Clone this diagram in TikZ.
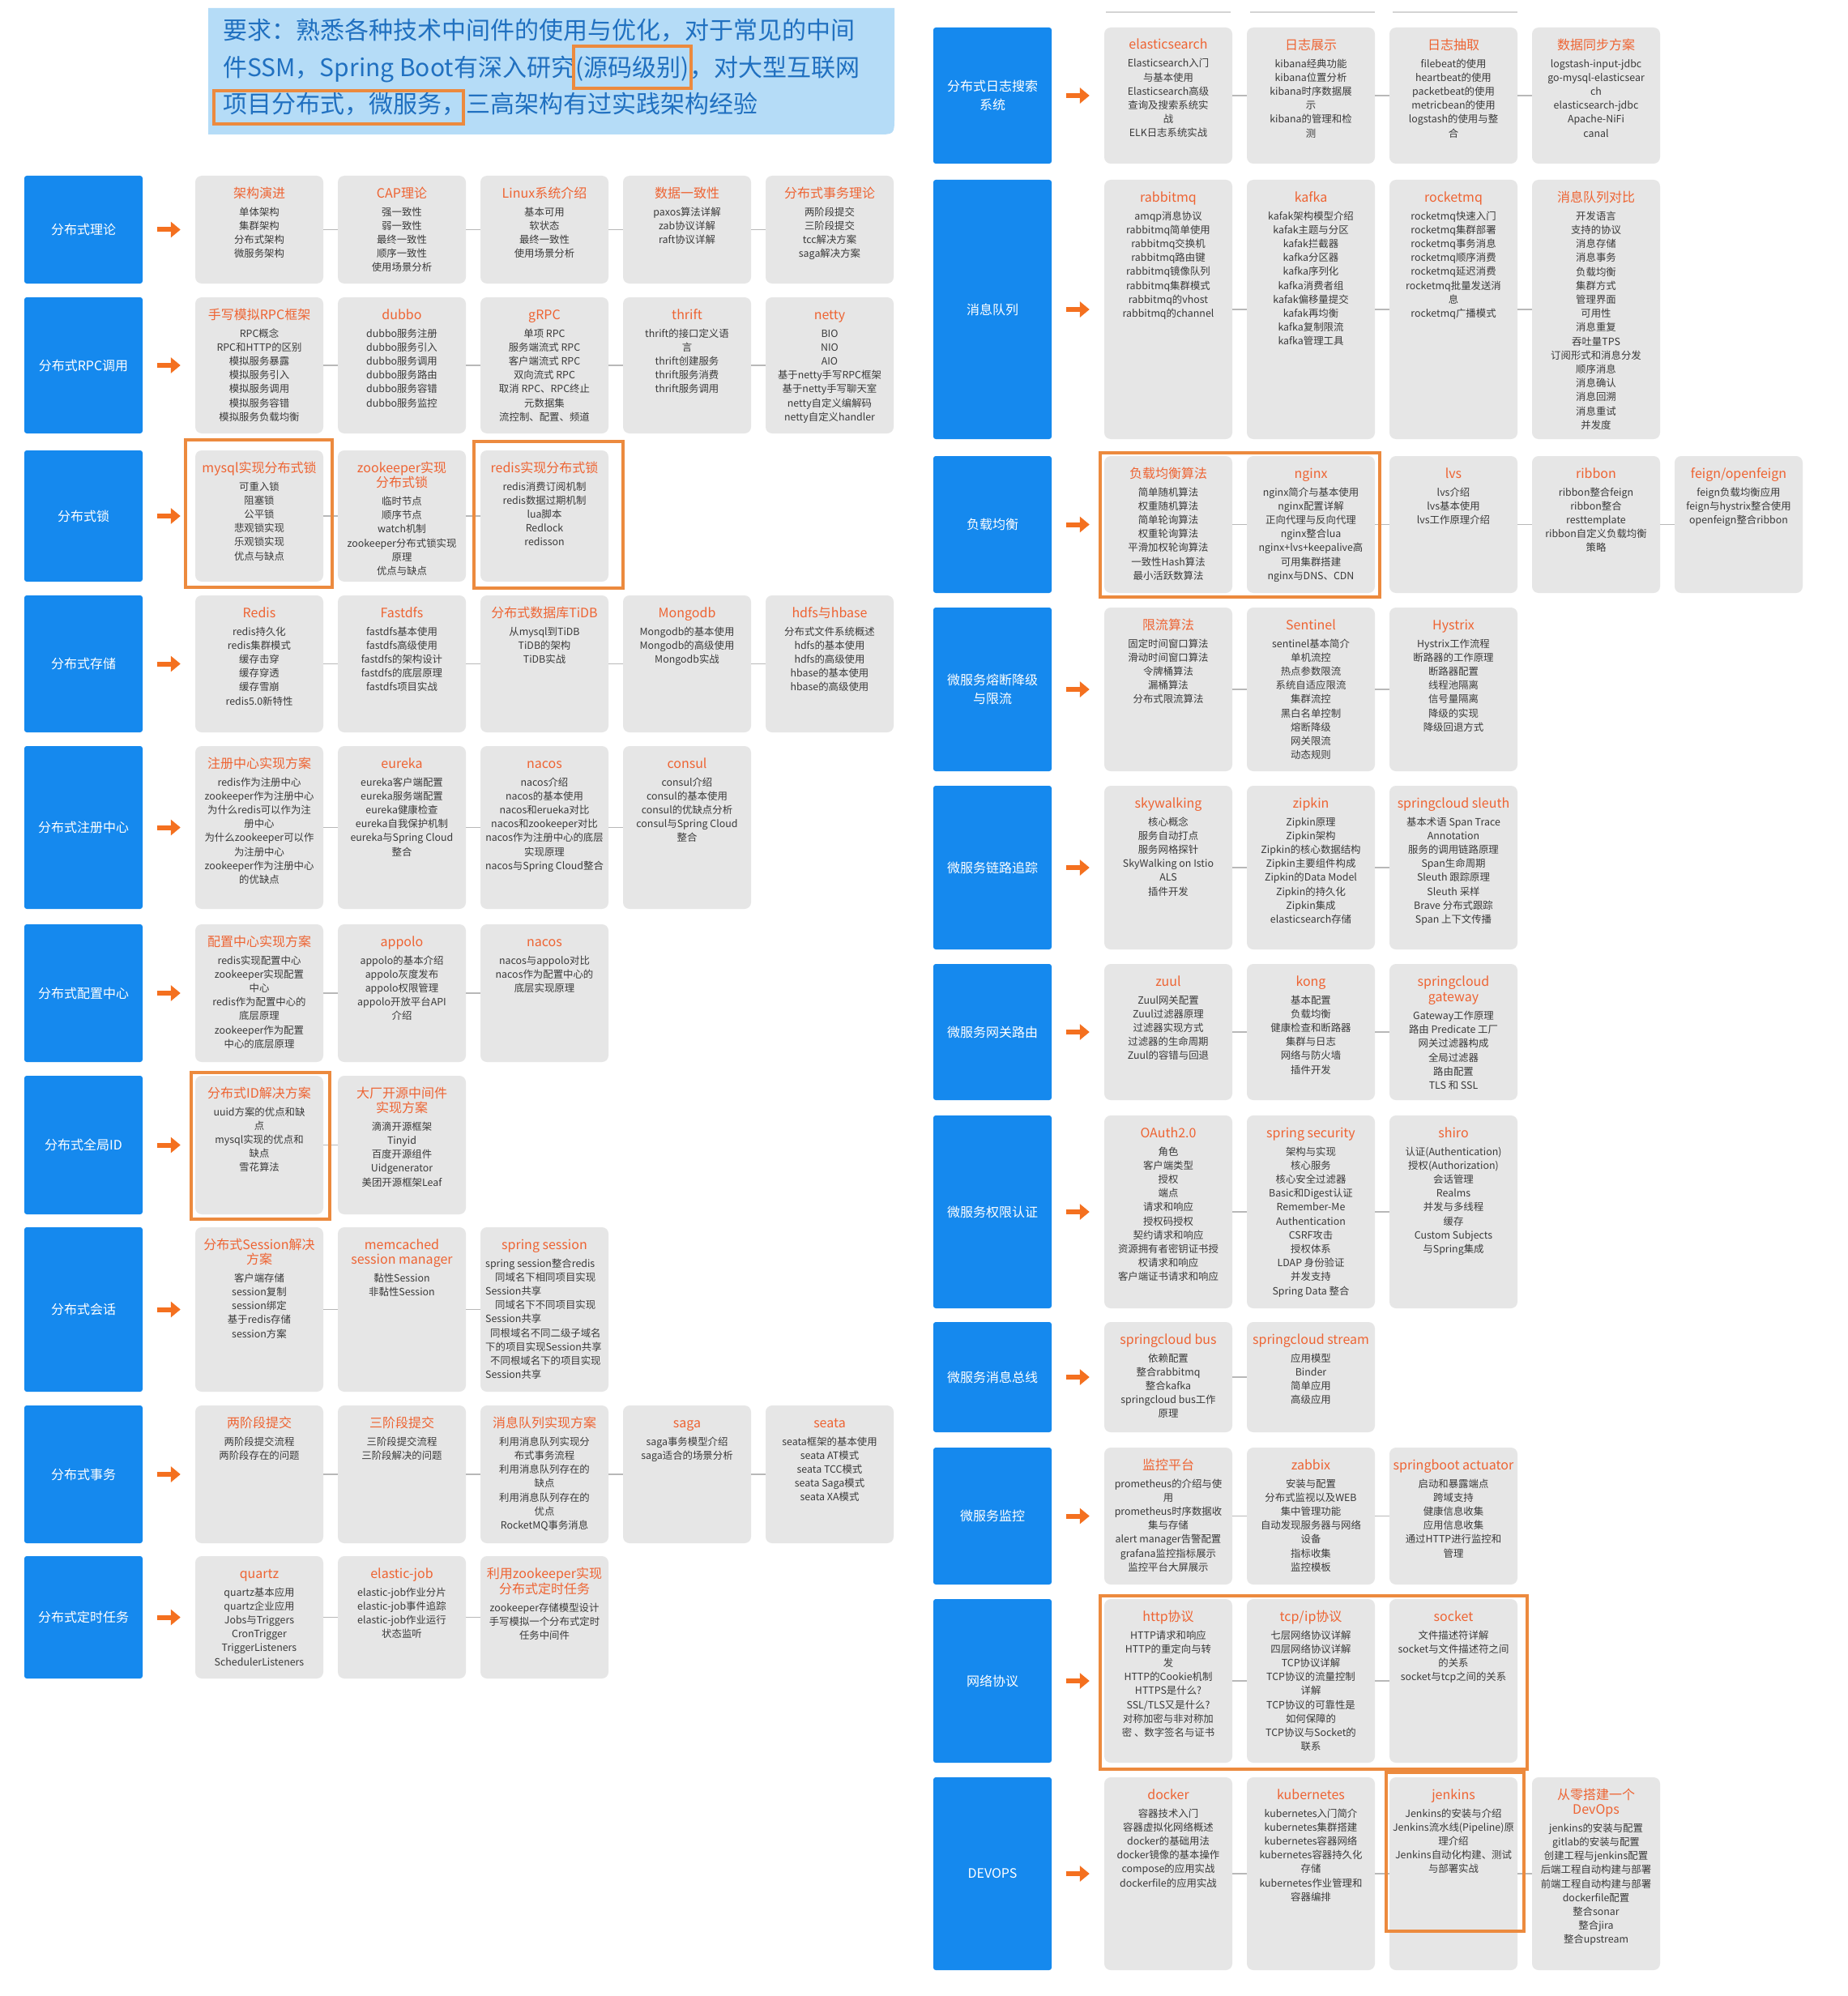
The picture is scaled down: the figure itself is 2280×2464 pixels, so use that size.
\documentclass[tikz,border=0pt]{standalone}
\usepackage{fontspec}
\setmainfont{Noto Sans CJK SC}
\usetikzlibrary{arrows.meta}
\definecolor{bblue}{HTML}{1589EE}
\definecolor{gfill}{HTML}{E6E6E6}
\definecolor{tcol}{HTML}{EE6433}
\definecolor{bodyc}{HTML}{3A3A3A}
\definecolor{hlc}{HTML}{EC8A3E}
\definecolor{arrc}{HTML}{F4701F}
\definecolor{connc}{HTML}{B8B8B8}
\definecolor{hdrbg}{HTML}{B5DCF7}
\definecolor{hdrtxt}{HTML}{2070C0}
\newcommand\tit[1]{{\fontsize{16}{18.3}\selectfont\color{tcol}\rule{0pt}{13.4pt}#1}}
\newcommand\TT[1]{\tit{#1}\\[4.8pt]}
\newcommand\TTT[2]{\tit{#1}\\[1.1pt]\tit{#2}\\[4.8pt]}
\newcommand\gb[5]{%
  \node[gbox, minimum height={#4-#3}] (#1) at (#2,{(#3+#4)/2}) {};
  \node[gtxt, anchor=north] (#1t) at (#2,#3+13.4) {#5};
}
\newcommand\bb[5]{%
  \node[bbox, minimum height={#4-#3}] (#1) at (#2,{(#3+#4)/2}) {#5};
}
\tikzset{
 gbox/.style={fill=gfill, draw=none, rounded corners=8pt, minimum width=158pt, inner sep=0pt},
 gtxt/.style={align=center, inner sep=0pt, text=bodyc, font=\fontsize{12.4}{17.2}\selectfont},
 bbox/.style={fill=bblue, rounded corners=3pt, minimum width=146pt, inner sep=0pt, align=center, text=white, font=\fontsize{16}{23.6}\selectfont},
 oarrow/.style={draw=arrc, line width=6pt, -{Triangle[length=12pt,width=19pt]}, shorten <=18pt, shorten >=18pt},
 conn/.style={draw=connc, line width=1.5pt},
 hl/.style={draw=hlc, line width=4pt},
 htxt/.style={inner sep=0pt, font=\fontsize{30}{45}\selectfont, text=hdrtxt},
}
\begin{document}
\begin{tikzpicture}[x=1pt,y=-1pt]
\useasboundingbox (0,0) rectangle (2280,2464);
\fill[white] (0,0) rectangle (2280,2464);

% ---------- header ----------
\fill[hdrbg] (257,10) -- (1104,10) -- (1104,144) .. controls (1104,166) .. (1082,166) -- (257,166) -- cycle;
\node[htxt, anchor=base west] (h1) at (275,48.5) {要求：熟悉各种技术中间件的使用与优化，对于常见的中间};
\node[htxt, anchor=base west] (h2a) at (275,94.4) {件SSM，Spring Boot有深入研究};
\node[htxt, anchor=base west] (h2b) at (h2a.base east) {(源码级别)};
\node[htxt, anchor=base west] (h2c) at (h2b.base east) {，对大型互联网};
\node[htxt, anchor=base west] (h3a) at (275,139.4) {项目分布式，微服务，};
\node[htxt, anchor=base west] (h3b) at (h3a.base east) {三高架构有过实践架构经验};
\coordinate (ya) at (0,57); \coordinate (yb) at (0,109);
\coordinate (yc) at (0,112); \coordinate (yd) at (0,153);
\coordinate (r1l) at ([xshift=-2pt]h2b.west); \coordinate (r1r) at ([xshift=2pt]h2b.east);
\coordinate (r2l) at ([xshift=-11pt]h3a.west); \coordinate (r2r) at ([xshift=-3pt]h3a.east);
\draw[hl] (r1l |- ya) rectangle (r1r |- yb);
\draw[hl] (r2l |- yc) rectangle (r2r |- yd);

% faint edges at the top right
\draw[connc!60, line width=1.5pt] (1365,15) -- (1519,15) (1543,15) -- (1697,15) (1719,15) -- (1873,15);

% ---------- LEFT ----------
\bb{L1}{103}{217}{350}{分布式理论}
\gb{L1a}{320}{217}{350}{\TT{架构演进}单体架构\\集群架构\\分布式架构\\微服务架构}
\gb{L1b}{496}{217}{350}{\TT{CAP理论}强一致性\\弱一致性\\最终一致性\\顺序一致性\\使用场景分析}
\gb{L1c}{672}{217}{350}{\TT{Linux系统介绍}基本可用\\软状态\\最终一致性\\使用场景分析}
\gb{L1d}{848}{217}{350}{\TT{数据一致性}paxos算法详解\\zab协议详解\\raft协议详解}
\gb{L1e}{1024}{217}{350}{\TT{分布式事务理论}两阶段提交\\三阶段提交\\tcc解决方案\\saga解决方案}

\bb{L2}{103}{367}{535}{分布式RPC调用}
\gb{L2a}{320}{367}{535}{\TT{手写模拟RPC框架}RPC概念\\RPC和HTTP的区别\\模拟服务暴露\\模拟服务引入\\模拟服务调用\\模拟服务容错\\模拟服务负载均衡}
\gb{L2b}{496}{367}{535}{\TT{dubbo}dubbo服务注册\\dubbo服务引入\\dubbo服务调用\\dubbo服务路由\\dubbo服务容错\\dubbo服务监控}
\gb{L2c}{672}{367}{535}{\TT{gRPC}单项 RPC\\服务端流式 RPC\\客户端流式 RPC\\双向流式 RPC\\取消 RPC、RPC终止\\元数据集\\流控制、配置、频道}
\gb{L2d}{848}{367}{535}{\TT{thrift}thrift的接口定义语\\言\\thrift创建服务\\thrift服务消费\\thrift服务调用}
\gb{L2e}{1024}{367}{535}{\TT{netty}BIO\\NIO\\AIO\\基于netty手写RPC框架\\基于netty手写聊天室\\netty自定义编解码\\netty自定义handler}

\bb{L3}{103}{556}{718}{分布式锁}
\gb{L3a}{320}{556}{718}{\TT{mysql实现分布式锁}可重入锁\\阻塞锁\\公平锁\\悲观锁实现\\乐观锁实现\\优点与缺点}
\gb{L3b}{496}{556}{718}{\TTT{zookeeper实现}{分布式锁}临时节点\\顺序节点\\watch机制\\zookeeper分布式锁实现\\原理\\优点与缺点}
\gb{L3c}{672}{556}{718}{\TT{redis实现分布式锁}redis消费订阅机制\\redis数据过期机制\\lua脚本\\Redlock\\redisson}

\bb{L4}{103}{735}{904}{分布式存储}
\gb{L4a}{320}{735}{904}{\TT{Redis}redis持久化\\redis集群模式\\缓存击穿\\缓存穿透\\缓存雪崩\\redis5.0新特性}
\gb{L4b}{496}{735}{904}{\TT{Fastdfs}fastdfs基本使用\\fastdfs高级使用\\fastdfs的架构设计\\fastdfs的底层原理\\fastdfs项目实战}
\gb{L4c}{672}{735}{904}{\TT{分布式数据库TiDB}从mysql到TiDB\\TiDB的架构\\TiDB实战}
\gb{L4d}{848}{735}{904}{\TT{Mongodb}Mongodb的基本使用\\Mongodb的高级使用\\Mongodb实战}
\gb{L4e}{1024}{735}{904}{\TT{hdfs与hbase}分布式文件系统概述\\hdfs的基本使用\\hdfs的高级使用\\hbase的基本使用\\hbase的高级使用}

\bb{L5}{103}{921}{1122}{分布式注册中心}
\gb{L5a}{320}{921}{1122}{\TT{注册中心实现方案}redis作为注册中心\\zookeeper作为注册中心\\为什么redis可以作为注\\册中心\\为什么zookeeper可以作\\为注册中心\\zookeeper作为注册中心\\的优缺点}
\gb{L5b}{496}{921}{1122}{\TT{eureka}eureka客户端配置\\eureka服务端配置\\eureka健康检查\\eureka自我保护机制\\eureka与Spring Cloud\\整合}
\gb{L5c}{672}{921}{1122}{\TT{nacos}nacos介绍\\nacos的基本使用\\nacos和erueka对比\\nacos和zookeeper对比\\nacos作为注册中心的底层\\实现原理\\nacos与Spring Cloud整合}
\gb{L5d}{848}{921}{1122}{\TT{consul}consul介绍\\consul的基本使用\\consul的优缺点分析\\consul与Spring Cloud\\整合}

\bb{L6}{103}{1141}{1311}{分布式配置中心}
\gb{L6a}{320}{1141}{1311}{\TT{配置中心实现方案}redis实现配置中心\\zookeeper实现配置\\中心\\redis作为配置中心的\\底层原理\\zookeeper作为配置\\中心的底层原理}
\gb{L6b}{496}{1141}{1311}{\TT{appolo}appolo的基本介绍\\appolo灰度发布\\appolo权限管理\\appolo开放平台API\\介绍}
\gb{L6c}{672}{1141}{1311}{\TT{nacos}nacos与appolo对比\\nacos作为配置中心的\\底层实现原理}

\bb{L7}{103}{1328}{1499}{分布式全局ID}
\gb{L7a}{320}{1328}{1499}{\TT{分布式ID解决方案}uuid方案的优点和缺\\点\\mysql实现的优点和\\缺点\\雪花算法}
\gb{L7b}{496}{1328}{1499}{\TTT{大厂开源中间件}{实现方案}滴滴开源框架\\Tinyid\\百度开源组件\\Uidgenerator\\美团开源框架Leaf}

\bb{L8}{103}{1515}{1718}{分布式会话}
\gb{L8a}{320}{1515}{1718}{\TTT{分布式Session解决}{方案}客户端存储\\session复制\\session绑定\\基于redis存储\\session方案}
\gb{L8b}{496}{1515}{1718}{\TTT{memcached}{session manager}黏性Session\\非黏性Session}
\node[gbox, minimum height={1718-1515}] (L8c) at (672,{(1515+1718)/2}) {};
\node[gtxt, anchor=north] (L8ct) at (672,1515+13.4) {\tit{spring session}};
\node[gtxt, anchor=north west, align=left] (L8cb) at (599,1515+37.8) {\rule{0pt}{11pt}spring session整合redis\\\hspace*{12pt}同域名下相同项目实现\\Session共享\\\hspace*{12pt}同域名下不同项目实现\\Session共享\\\hspace*{6pt}同根域名不同二级子域名\\下的项目实现Session共享\\\hspace*{6pt}不同根域名下的项目实现\\Session共享};

\bb{L9}{103}{1735}{1905}{分布式事务}
\gb{L9a}{320}{1735}{1905}{\TT{两阶段提交}两阶段提交流程\\两阶段存在的问题}
\gb{L9b}{496}{1735}{1905}{\TT{三阶段提交}三阶段提交流程\\三阶段解决的问题}
\gb{L9c}{672}{1735}{1905}{\TT{消息队列实现方案}利用消息队列实现分\\布式事务流程\\利用消息队列存在的\\缺点\\利用消息队列存在的\\优点\\RocketMQ事务消息}
\gb{L9d}{848}{1735}{1905}{\TT{saga}saga事务模型介绍\\saga适合的场景分析}
\gb{L9e}{1024}{1735}{1905}{\TT{seata}seata框架的基本使用\\seata AT模式\\seata TCC模式\\seata Saga模式\\seata XA模式}

\bb{L10}{103}{1921}{2072}{分布式定时任务}
\gb{L10a}{320}{1921}{2072}{\TT{quartz}quartz基本应用\\quartz企业应用\\Jobs与Triggers\\CronTrigger\\TriggerListeners\\SchedulerListeners}
\gb{L10b}{496}{1921}{2072}{\TT{elastic-job}elastic-job作业分片\\elastic-job事件追踪\\elastic-job作业运行\\状态监听}
\gb{L10c}{672}{1921}{2072}{\TTT{利用zookeeper实现}{分布式定时任务}zookeeper存储模型设计\\手写模拟一个分布式定时\\任务中间件}

% ---------- RIGHT ----------
\bb{R1}{1225}{34}{202}{分布式日志搜索\\系统}
\gb{R1a}{1442}{34}{202}{\TT{elasticsearch}Elasticsearch入门\\与基本使用\\Elasticsearch高级\\查询及搜索系统实\\战\\ELK日志系统实战}
\gb{R1b}{1618}{34}{202}{\TT{日志展示}kibana经典功能\\kibana位置分析\\kibana时序数据展\\示\\kibana的管理和检\\测}
\gb{R1c}{1794}{34}{202}{\TT{日志抽取}filebeat的使用\\heartbeat的使用\\packetbeat的使用\\metricbean的使用\\logstash的使用与整\\合}
\gb{R1d}{1970}{34}{202}{\TT{数据同步方案}logstash-input-jdbc\\go-mysql-elasticsear\\ch\\elasticsearch-jdbc\\Apache-NiFi\\canal}

\bb{R2}{1225}{222}{542}{消息队列}
\gb{R2a}{1442}{222}{542}{\TT{rabbitmq}amqp消息协议\\rabbitmq简单使用\\rabbitmq交换机\\rabbitmq路由键\\rabbitmq镜像队列\\rabbitmq集群模式\\rabbitmq的vhost\\rabbitmq的channel}
\gb{R2b}{1618}{222}{542}{\TT{kafka}kafak架构模型介绍\\kafak主题与分区\\kafak拦截器\\kafka分区器\\kafka序列化\\kafka消费者组\\kafak偏移量提交\\kafak再均衡\\kafka复制限流\\kafka管理工具}
\gb{R2c}{1794}{222}{542}{\TT{rocketmq}rocketmq快速入门\\rocketmq集群部署\\rocketmq事务消息\\rocketmq顺序消费\\rocketmq延迟消费\\rocketmq批量发送消\\息\\rocketmq广播模式}
\gb{R2d}{1970}{222}{542}{\TT{消息队列对比}开发语言\\支持的协议\\消息存储\\消息事务\\负载均衡\\集群方式\\管理界面\\可用性\\消息重复\\吞吐量TPS\\订阅形式和消息分发\\顺序消息\\消息确认\\消息回溯\\消息重试\\并发度}

\bb{R3}{1225}{563}{732}{负载均衡}
\gb{R3a}{1442}{563}{732}{\TT{负载均衡算法}简单随机算法\\权重随机算法\\简单轮询算法\\权重轮询算法\\平滑加权轮询算法\\一致性Hash算法\\最小活跃数算法}
\gb{R3b}{1618}{563}{732}{\TT{nginx}nginx简介与基本使用\\nginx配置详解\\正向代理与反向代理\\nginx整合lua\\nginx+lvs+keepalive高\\可用集群搭建\\nginx与DNS、CDN}
\gb{R3c}{1794}{563}{732}{\TT{lvs}lvs介绍\\lvs基本使用\\lvs工作原理介绍}
\gb{R3d}{1970}{563}{732}{\TT{ribbon}ribbon整合feign\\ribbon整合\\resttemplate\\ribbon自定义负载均衡\\策略}
\gb{R3e}{2146}{563}{732}{\TT{feign/openfeign}feign负载均衡应用\\feign与hystrix整合使用\\openfeign整合ribbon}

\bb{R4}{1225}{750}{952}{微服务熔断降级\\与限流}
\gb{R4a}{1442}{750}{952}{\TT{限流算法}固定时间窗口算法\\滑动时间窗口算法\\令牌桶算法\\漏桶算法\\分布式限流算法}
\gb{R4b}{1618}{750}{952}{\TT{Sentinel}sentinel基本简介\\单机流控\\热点参数限流\\系统自适应限流\\集群流控\\黑白名单控制\\熔断降级\\网关限流\\动态规则}
\gb{R4c}{1794}{750}{952}{\TT{Hystrix}Hystrix工作流程\\断路器的工作原理\\断路器配置\\线程池隔离\\信号量隔离\\降级的实现\\降级回退方式}

\bb{R5}{1225}{970}{1172}{微服务链路追踪}
\gb{R5a}{1442}{970}{1172}{\TT{skywalking}核心概念\\服务自动打点\\服务网格探针\\SkyWalking on Istio\\ALS\\插件开发}
\gb{R5b}{1618}{970}{1172}{\TT{zipkin}Zipkin原理\\Zipkin架构\\Zipkin的核心数据结构\\Zipkin主要组件构成\\Zipkin的Data Model\\Zipkin的持久化\\Zipkin集成\\elasticsearch存储}
\gb{R5c}{1794}{970}{1172}{\TT{springcloud sleuth}基本术语 Span Trace\\Annotation\\服务的调用链路原理\\Span生命周期\\Sleuth 跟踪原理\\Sleuth 采样\\Brave 分布式跟踪\\Span 上下文传播}

\bb{R6}{1225}{1190}{1358}{微服务网关路由}
\gb{R6a}{1442}{1190}{1358}{\TT{zuul}Zuul网关配置\\Zuul过滤器原理\\过滤器实现方式\\过滤器的生命周期\\Zuul的容错与回退}
\gb{R6b}{1618}{1190}{1358}{\TT{kong}基本配置\\负载均衡\\健康检查和断路器\\集群与日志\\网络与防火墙\\插件开发}
\gb{R6c}{1794}{1190}{1358}{\TTT{springcloud}{gateway}Gateway工作原理\\路由 Predicate 工厂\\网关过滤器构成\\全局过滤器\\路由配置\\TLS 和 SSL}

\bb{R7}{1225}{1377}{1615}{微服务权限认证}
\gb{R7a}{1442}{1377}{1615}{\TT{OAuth2.0}角色\\客户端类型\\授权\\端点\\请求和响应\\授权码授权\\契约请求和响应\\资源拥有者密钥证书授\\权请求和响应\\客户端证书请求和响应}
\gb{R7b}{1618}{1377}{1615}{\TT{spring security}架构与实现\\核心服务\\核心安全过滤器\\Basic和Digest认证\\Remember-Me\\Authentication\\CSRF攻击\\授权体系\\LDAP 身份验证\\并发支持\\Spring Data 整合}
\gb{R7c}{1794}{1377}{1615}{\TT{shiro}认证(Authentication)\\授权(Authorization)\\会话管理\\Realms\\并发与多线程\\缓存\\Custom Subjects\\与Spring集成}

\bb{R8}{1225}{1632}{1768}{微服务消息总线}
\gb{R8a}{1442}{1632}{1768}{\TT{springcloud bus}依赖配置\\整合rabbitmq\\整合kafka\\springcloud bus工作\\原理}
\gb{R8b}{1618}{1632}{1768}{\TT{springcloud stream}应用模型\\Binder\\简单应用\\高级应用}

\bb{R9}{1225}{1787}{1956}{微服务监控}
\gb{R9a}{1442}{1787}{1956}{\TT{监控平台}prometheus的介绍与使\\用\\prometheus时序数据收\\集与存储\\alert manager告警配置\\grafana监控指标展示\\监控平台大屏展示}
\gb{R9b}{1618}{1787}{1956}{\TT{zabbix}安装与配置\\分布式监视以及WEB\\集中管理功能\\自动发现服务器与网络\\设备\\指标收集\\监控模板}
\gb{R9c}{1794}{1787}{1956}{\TT{springboot actuator}启动和暴露端点\\跨域支持\\健康信息收集\\应用信息收集\\通过HTTP进行监控和\\管理}

\bb{R10}{1225}{1974}{2176}{网络协议}
\gb{R10a}{1442}{1974}{2176}{\TT{http协议}HTTP请求和响应\\HTTP的重定向与转\\发\\HTTP的Cookie机制\\HTTPS是什么?\\SSL/TLS又是什么?\\对称加密与非对称加\\密 、数字签名与证书}
\gb{R10b}{1618}{1974}{2176}{\TT{tcp/ip协议}七层网络协议详解\\四层网络协议详解\\TCP协议详解\\TCP协议的流量控制\\详解\\TCP协议的可靠性是\\如何保障的\\TCP协议与Socket的\\联系}
\gb{R10c}{1794}{1974}{2176}{\TT{socket}文件描述符详解\\socket与文件描述符之间\\的关系\\socket与tcp之间的关系}

\bb{R11}{1225}{2194}{2432}{DEVOPS}
\gb{R11a}{1442}{2194}{2432}{\TT{docker}容器技术入门\\容器虚拟化网络概述\\docker的基础用法\\docker镜像的基本操作\\compose的应用实战\\dockerfile的应用实战}
\gb{R11b}{1618}{2194}{2432}{\TT{kubernetes}kubernetes入门简介\\kubernetes集群搭建\\kubernetes容器网络\\kubernetes容器持久化\\存储\\kubernetes作业管理和\\容器编排}
\gb{R11c}{1794}{2194}{2432}{\TT{jenkins}Jenkins的安装与介绍\\Jenkins流水线(Pipeline)原\\理介绍\\Jenkins自动化构建、测试\\与部署实战}
\gb{R11d}{1970}{2194}{2432}{\TTT{从零搭建一个}{DevOps}jenkins的安装与配置\\gitlab的安装与配置\\创建工程与jenkins配置\\后端工程自动构建与部署\\前端工程自动构建与部署\\dockerfile配置\\整合sonar\\整合jira\\整合upstream}

% ---------- arrows ----------
\foreach \r in {L1,L2,L3,L4,L5,L6,L7,L8,L9,L10,R1,R2,R3,R4,R5,R6,R7,R8,R9,R10,R11}
  \draw[oarrow] (\r) -- (\r a);

% ---------- connectors ----------
\draw[conn] (L1a) -- (L1b); \draw[conn] (L1b) -- (L1c); \draw[conn] (L1c) -- (L1d); \draw[conn] (L1d) -- (L1e);
\draw[conn] (L2a) -- (L2b); \draw[conn] (L2b) -- (L2c); \draw[conn] (L2c) -- (L2d); \draw[conn] (L2d) -- (L2e);
\draw[conn] (L3a) -- (L3b); \draw[conn] (L3b) -- (L3c);
\draw[conn] (L4a) -- (L4b); \draw[conn] (L4b) -- (L4c); \draw[conn] (L4c) -- (L4d); \draw[conn] (L4d) -- (L4e);
\draw[conn] (L5a) -- (L5b); \draw[conn] (L5b) -- (L5c); \draw[conn] (L5c) -- (L5d);
\draw[conn] (L6a) -- (L6b); \draw[conn] (L6b) -- (L6c);
\draw[conn] (L7a) -- (L7b);
\draw[conn] (L8a) -- (L8b); \draw[conn] (L8b) -- (L8c);
\draw[conn] (L9a) -- (L9b); \draw[conn] (L9b) -- (L9c); \draw[conn] (L9c) -- (L9d); \draw[conn] (L9d) -- (L9e);
\draw[conn] (L10a) -- (L10b); \draw[conn] (L10b) -- (L10c);
\draw[conn] (R1a) -- (R1b); \draw[conn] (R1b) -- (R1c); \draw[conn] (R1c) -- (R1d);
\draw[conn] (R2a) -- (R2b); \draw[conn] (R2b) -- (R2c); \draw[conn] (R2c) -- (R2d);
\draw[conn] (R3a) -- (R3b); \draw[conn] (R3b) -- (R3c); \draw[conn] (R3c) -- (R3d); \draw[conn] (R3d) -- (R3e);
\draw[conn] (R4a) -- (R4b); \draw[conn] (R4b) -- (R4c);
\draw[conn] (R5a) -- (R5b); \draw[conn] (R5b) -- (R5c);
\draw[conn] (R6a) -- (R6b); \draw[conn] (R6b) -- (R6c);
\draw[conn] (R7a) -- (R7b); \draw[conn] (R7b) -- (R7c);
\draw[conn] (R8a) -- (R8b);
\draw[conn] (R9a) -- (R9b); \draw[conn] (R9b) -- (R9c);
\draw[conn] (R10a) -- (R10b); \draw[conn] (R10b) -- (R10c);
\draw[conn] (R11a) -- (R11b); \draw[conn] (R11b) -- (R11c); \draw[conn] (R11c) -- (R11d);

% ---------- highlight frames ----------
\draw[hl] (229,543) rectangle (410,725);
\draw[hl] (585,545) rectangle (769,726);
\draw[hl] (236,1324) rectangle (407,1505);
\draw[hl] (1358,559) rectangle (1703,737);
\draw[hl] (1358,1970) rectangle (1885,2184);
\draw[hl] (1711,2188) rectangle (1881,2384);
\end{tikzpicture}
\end{document}
